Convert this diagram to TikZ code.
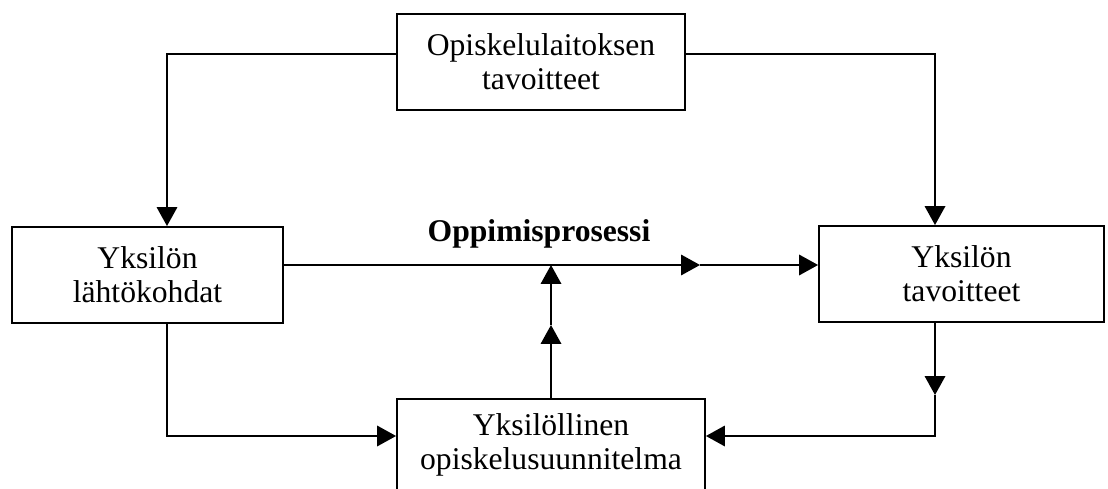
\documentclass[tikz,border=0pt]{standalone}
\usepackage{fontspec}
\setmainfont{Liberation Serif}
\usetikzlibrary{arrows.meta}

\begin{document}
\begin{tikzpicture}[x=0.02cm, y=-0.02cm,
                    line width=1.1pt,
                    box/.style={draw, align=center, inner sep=0pt,
                                minimum height=1.92cm,
                                font=\fontsize{18}{19.5}\selectfont},
                    arr/.style={-{Triangle[length=3.8mm,width=4.1mm]}}]
                \useasboundingbox (0,0) rectangle (1108,489);
                \clip (0,0) rectangle (1108,489);
                \node[box, minimum width=5.76cm] (inst) at (541,62) {Opiskelulaitoksen\\tavoitteet};
                \node[box, minimum width=5.42cm] (start) at (147.5,275) {Yksilön\\lähtökohdat};
                \node[box, minimum width=5.70cm] (goal) at (961.5,274) {Yksilön\\tavoitteet};
                \node[box, minimum width=6.16cm, minimum height=1.84cm] (plan) at (551,445) {Yksilöllinen\\opiskelusuunnitelma};
                \node[anchor=base, font=\fontsize{18}{19}\selectfont\bfseries] (proc) at (539,242) {Oppimisprosessi};
                \coordinate (topline) at (0,54);
                \coordinate (mid) at (551,265);
                \coordinate (botline) at (0,436);
                \coordinate (lx) at (167,0);
                \coordinate (rx) at (935,0);
                \coordinate (tipA) at (700,265);
                \coordinate (tipU) at (551,325);
                \coordinate (tipR) at (935,395);
                \draw[arr] (inst.west |- topline) -| (lx |- start.north);
                \draw[arr] (inst.east |- topline) -| (rx |- goal.north);
                \draw[arr] (start.east |- mid) -- (tipA);
                \draw[arr] (tipA) -- (goal.west |- mid);
                \draw[arr] (plan.north) -- (tipU);
                \draw[arr] (tipU) -- (mid);
                \draw[arr] (lx |- start.south) |- (plan.west |- botline);
                \draw[arr] (rx |- goal.south) -- (tipR);
                \draw[arr] (tipR) |- (plan.east |- botline);
              \end{tikzpicture}
\end{document}
